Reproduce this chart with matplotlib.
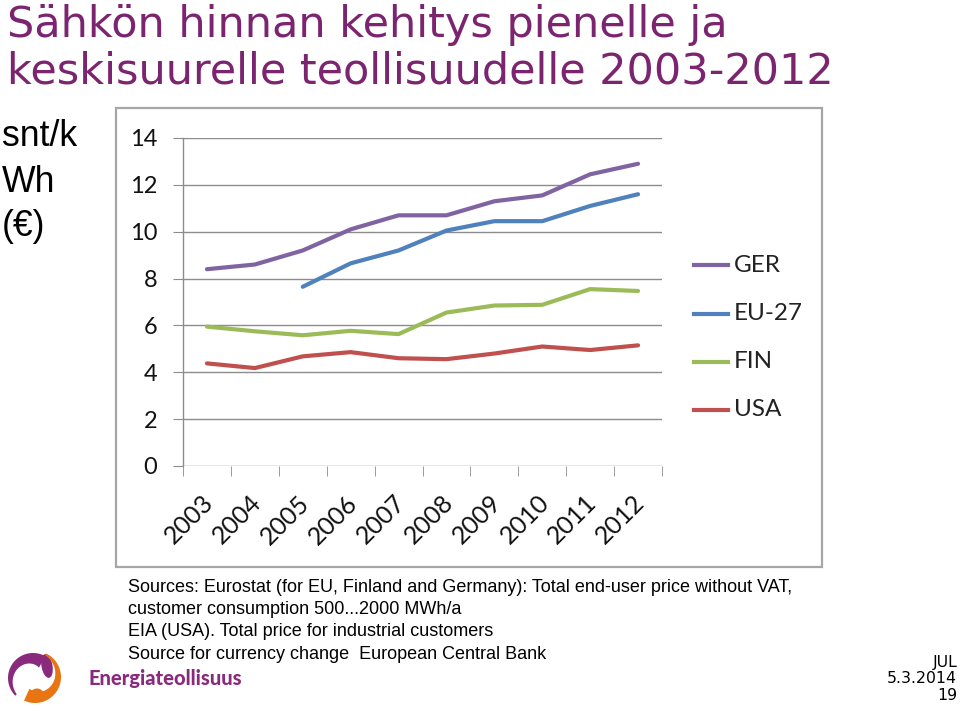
import matplotlib
matplotlib.use("Agg")
import numpy as np
import matplotlib.pyplot as plt
import matplotlib.transforms as mtrans
from matplotlib.patches import Rectangle, Polygon, Ellipse
from matplotlib.lines import Line2D

W, H = 960, 711

years = ["2003", "2004", "2005", "2006", "2007", "2008", "2009", "2010", "2011", "2012"]
ger = [8.4, 8.6, 9.2, 10.1, 10.7, 10.7, 11.3, 11.55, 12.45, 12.9]
eu27 = [None, None, 7.65, 8.65, 9.2, 10.05, 10.45, 10.45, 11.1, 11.6]
fin = [5.95, 5.75, 5.58, 5.77, 5.63, 6.55, 6.85, 6.88, 7.55, 7.47]
usa = [4.38, 4.18, 4.68, 4.86, 4.6, 4.56, 4.8, 5.1, 4.95, 5.15]
series_names = ["GER", "EU-27", "FIN", "USA"]
series_colors = ["#8064A2", "#4F81BD", "#9BBB59", "#C0504D"]
y_ticks = [0, 2, 4, 6, 8, 10, 12, 14]

title_lines = ["Sähkön hinnan kehitys pienelle ja", "keskisuurelle teollisuudelle 2003-2012"]
unit_lines = ["snt/k", "Wh", "(€)"]
source_lines = [
    "Sources: Eurostat (for EU, Finland and Germany): Total end-user price without VAT,",
    "customer consumption 500...2000 MWh/a",
    "EIA (USA). Total price for industrial customers",
    "Source for currency change  European Central Bank",
]
footer_lines = ["JUL", "5.3.2014", "19"]
logo_text = "Energiateollisuus"


def fx(x):
    return x / W


def fy(y):
    return 1 - y / H


fig = plt.figure(figsize=(9.6, 7.11), dpi=100)
fig.patch.set_facecolor("white")

# chart frame
frame = Rectangle((fx(116), fy(567)), fx(822) - fx(116), fy(108) - fy(567),
                  transform=fig.transFigure, facecolor="white",
                  edgecolor="#A6A6A6", linewidth=1.6, zorder=-5)
fig.patches.append(frame)

ax = fig.add_axes([fx(183), fy(466), fx(662) - fx(183), fy(138) - fy(466)])
ax.set_zorder(2)
ax.set_facecolor("none")
x = list(range(len(years)))
data = [ger, eu27, fin, usa]
for name, vals, col in zip(series_names, data, series_colors):
    xs = [i for i, v in zip(x, vals) if v is not None]
    ys = [v for v in vals if v is not None]
    ax.plot(xs, ys, color=col, linewidth=3.0, solid_capstyle="round", solid_joinstyle="round",
            label=name, zorder=3)

ax.set_xlim(-0.5, len(years) - 0.5)
ax.set_ylim(0, 14)
ax.set_yticks(y_ticks)
ax.set_yticklabels([str(t) for t in y_ticks], fontfamily="Lato", fontsize=17, color="#111111")
ax.yaxis.grid(True, color="#8C8C8C", linewidth=1.0)
ax.set_axisbelow(True)
for s in ["top", "right", "bottom"]:
    ax.spines[s].set_visible(False)
ax.spines["left"].set_color("#8C8C8C")
ax.spines["left"].set_linewidth(1.0)
ax.tick_params(axis="y", length=7.5, color="#8C8C8C", pad=11)

ax.set_xticks(x)
ax.set_xticks([i - 0.5 for i in range(len(years) + 1)], minor=True)
ax.tick_params(axis="x", which="major", length=0, pad=18)
ax.tick_params(axis="x", which="minor", length=7.5, color="#8C8C8C")
ax.set_xticklabels(years, rotation=45, ha="right", fontfamily="Lato",
                   fontsize=18, color="#111111")
for lab in ax.get_xticklabels():
    lab.set_transform(lab.get_transform() + mtrans.ScaledTranslation(11 / 100, 0, fig.dpi_scale_trans))

# legend drawn manually in figure coords
leg_y = [265, 314, 362, 410]
for name, col, yy in zip(series_names, series_colors, leg_y):
    fig.add_artist(Line2D([fx(694), fx(728)], [fy(yy), fy(yy)], color=col, linewidth=3.0,
                          transform=fig.transFigure))
    fig.text(fx(734), fy(yy), name, fontfamily="Lato", fontsize=17.5,
             color="#222222", va="center", ha="left")

# title
title_color = "#7B2470"
fig.text(fx(7), fy(37), title_lines[0], fontfamily="DejaVu Sans", fontsize=31, color=title_color,
         va="baseline", ha="left")
fig.text(fx(7), fy(84), title_lines[1], fontfamily="DejaVu Sans", fontsize=31, color=title_color,
         va="baseline", ha="left")

# unit label
for i, t in enumerate(unit_lines):
    fig.text(fx(2), fy(137 + 45 * i), t, fontfamily="Liberation Sans", fontsize=25.7, color="black",
             va="center", ha="left")

# sources
for i, t in enumerate(source_lines):
    fig.text(fx(128), fy(587 + 22.5 * i), t, fontfamily="Liberation Sans", fontsize=12.95,
             color="black", va="center", ha="left")

# footer
for i, t in enumerate(footer_lines):
    fig.text(fx(957), fy(662 + 16.5 * i), t, fontfamily="DejaVu Sans", fontsize=11.3,
             color="black", va="center", ha="right")

# logo (decorative swirl), pixel coordinates with y pointing down
logo_ax = fig.add_axes([0, fy(711), fx(75), fy(640) - fy(711)])
logo_ax.set_xlim(0, 75)
logo_ax.set_ylim(711, 640)
logo_ax.axis("off")


def crescent(cx, cy, R, t0, t1, w0, w1, n=60):
    th = np.radians(np.linspace(t0, t1, n))
    w = np.linspace(w0, w1, n)
    outer = np.column_stack([cx + R * np.cos(th), cy - R * np.sin(th)])
    inner = np.column_stack([cx + (R - w) * np.cos(th), cy - (R - w) * np.sin(th)])
    return np.vstack([outer, inner[::-1]])


purple = "#8A2A7C"
orange = "#E87511"
logo_ax.add_patch(Polygon(crescent(33, 678, 25, 60, 225, 13, 2), closed=True,
                          facecolor=purple, edgecolor="none"))
logo_ax.add_patch(Ellipse((47, 666), 11, 24, angle=-10, facecolor=purple, edgecolor="none"))
logo_ax.add_patch(Polygon(crescent(35, 677, 26, 245, 425, 13, 2), closed=True,
                          facecolor=orange, edgecolor="none"))
logo_ax.add_patch(Ellipse((37, 694), 13, 11, facecolor=orange, edgecolor="none"))

fig.text(fx(89), fy(678), logo_text, fontfamily="Lato", fontweight="black", fontsize=14.5,
         color="#8A2A7C", va="center", ha="left")

fig.savefig("out.png", dpi=100)
